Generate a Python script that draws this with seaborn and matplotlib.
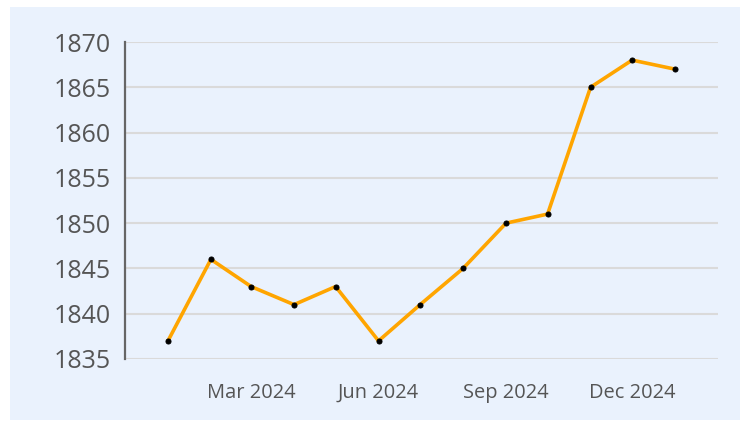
import pandas as pd
import seaborn as sns
import matplotlib.pyplot as plt
import matplotlib.dates as mdates
from matplotlib.patches import Rectangle

months = pd.date_range("2024-01-01", periods=13, freq="MS")
values = [1837, 1846, 1843, 1841, 1843, 1837, 1841, 1845, 1850, 1851, 1865, 1868, 1867]
df = pd.DataFrame({"month": months, "value": values})

bg = "#EAF2FD"
text_col = "#555555"

sns.set_style("white")
plt.rcParams["font.family"] = ["Open Sans", "DejaVu Sans"]

fig = plt.figure(figsize=(7.47, 4.26), dpi=100, facecolor="white")
# light blue panel behind the plot
fig.patches.append(Rectangle((10 / 747, 6 / 426), 730 / 747, 413 / 426,
                             transform=fig.transFigure, facecolor=bg,
                             edgecolor="none", zorder=-1))
ax = fig.add_axes([125 / 747, 1 - 359 / 426, 593 / 747, 317 / 426])
ax.set_facecolor(bg)

sns.lineplot(data=df, x="month", y="value", ax=ax, color="#FFA500",
             linewidth=2.6, marker="o", markersize=3.6,
             markerfacecolor="black", markeredgecolor="black", zorder=3)

ax.set_ylim(1835, 1870)
ax.set_yticks(range(1835, 1871, 5))
ax.set_xlim(pd.Timestamp("2023-12-01"), pd.Timestamp("2025-02-01"))
ax.set_xticks(pd.to_datetime(["2024-03-01", "2024-06-01", "2024-09-01", "2024-12-01"]))
ax.xaxis.set_major_formatter(mdates.DateFormatter("%b %Y"))

ax.grid(axis="y", color="#DADADA", linewidth=1.5)
ax.set_axisbelow(True)
for s in ["top", "right", "bottom"]:
    ax.spines[s].set_visible(False)
ax.spines["left"].set_color("#666666")
ax.spines["left"].set_linewidth(1.6)

ax.tick_params(axis="y", labelsize=18, colors=text_col, length=0, pad=10)
ax.tick_params(axis="x", labelsize=14.4, colors=text_col, length=0, pad=17)
ax.set_xlabel("")
ax.set_ylabel("")

fig.savefig("out.png", dpi=100, facecolor="white")
